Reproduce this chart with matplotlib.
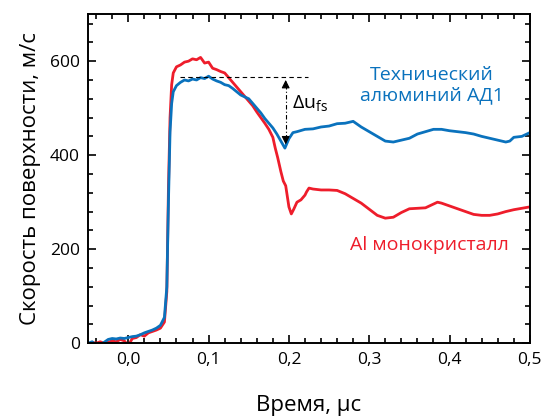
import numpy as np
import matplotlib.pyplot as plt
from matplotlib.ticker import MultipleLocator

plt.rcParams['font.family'] = ['Open Sans', 'DejaVu Sans']

# Технический алюминий АД1 (синяя кривая)
t_blue = [-0.05, -0.045, -0.04, -0.035, -0.03, -0.025, -0.02, -0.015, -0.01, -0.005,
          0.0, 0.005, 0.01, 0.015, 0.02, 0.025, 0.03, 0.035, 0.04, 0.045,
          0.048, 0.05, 0.052, 0.054, 0.056, 0.06, 0.065, 0.07, 0.075, 0.08,
          0.085, 0.09, 0.095, 0.1, 0.105, 0.11, 0.115, 0.12, 0.125, 0.13,
          0.135, 0.14, 0.145, 0.15, 0.155, 0.16, 0.165, 0.17, 0.175, 0.18,
          0.185, 0.19, 0.195, 0.2, 0.205, 0.21, 0.22, 0.23, 0.24, 0.25,
          0.26, 0.27, 0.28, 0.285, 0.29, 0.3, 0.31, 0.32, 0.33, 0.34,
          0.35, 0.36, 0.37, 0.38, 0.39, 0.4, 0.41, 0.42, 0.43, 0.44,
          0.45, 0.46, 0.47, 0.475, 0.48, 0.49, 0.5]
v_blue = [0, 3, -4, -3, 2, 8, 10, 9, 11, 10,
          12, 14, 15, 18, 22, 25, 28, 32, 38, 55,
          120, 300, 450, 510, 535, 548, 555, 560, 558, 562,
          560, 565, 563, 568, 562, 558, 555, 550, 548, 542,
          535, 528, 524, 520, 510, 500, 490, 478, 468, 458,
          445, 430, 415, 435, 448, 450, 455, 456, 460, 462,
          467, 468, 472, 466, 460, 450, 440, 430, 428, 432,
          436, 445, 450, 455, 455, 452, 450, 448, 445, 440,
          436, 432, 428, 430, 438, 440, 448]

# Al монокристалл (красная кривая)
t_red = [-0.05, -0.045, -0.04, -0.035, -0.03, -0.025, -0.02, -0.015, -0.01, -0.005,
         0.0, 0.005, 0.01, 0.015, 0.02, 0.025, 0.03, 0.035, 0.04, 0.045,
         0.048, 0.05, 0.052, 0.054, 0.056, 0.06, 0.065, 0.07, 0.075, 0.08,
         0.085, 0.09, 0.095, 0.1, 0.105, 0.11, 0.115, 0.12, 0.125, 0.13,
         0.135, 0.14, 0.145, 0.15, 0.155, 0.16, 0.165, 0.17, 0.175, 0.18,
         0.183, 0.186, 0.19, 0.193, 0.196, 0.2, 0.203, 0.206, 0.21, 0.215,
         0.22, 0.222, 0.225, 0.23, 0.24, 0.25, 0.26, 0.27, 0.28, 0.29,
         0.3, 0.31, 0.32, 0.33, 0.34, 0.35, 0.36, 0.37, 0.38, 0.385,
         0.39, 0.4, 0.41, 0.42, 0.43, 0.44, 0.45, 0.46, 0.47, 0.48,
         0.49, 0.5]
v_red = [-2, 2, 0, 3, 0, 2, 5, 3, 8, 5,
         -5, 10, 12, 18, 15, 22, 25, 28, 32, 45,
         110, 330, 480, 550, 575, 588, 592, 598, 600, 605,
         603, 608, 596, 598, 585, 582, 578, 575, 565, 555,
         545, 535, 525, 515, 505, 492, 480, 468, 455, 438,
         415, 395, 365, 345, 335, 290, 275, 285, 300, 305,
         315, 322, 330, 328, 326, 326, 325, 318, 308, 298,
         285, 272, 266, 268, 278, 286, 287, 288, 296, 300,
         298, 292, 286, 280, 274, 272, 272, 275, 280, 284,
         287, 290]

x_ticks = [0.0, 0.1, 0.2, 0.3, 0.4, 0.5]
x_labels = ['0,0', '0,1', '0,2', '0,3', '0,4', '0,5']
y_ticks = [0, 200, 400, 600]

blue = '#0a72bd'
red = '#ee1d2b'

fig = plt.figure(figsize=(5.44, 4.17), dpi=100)
ax = fig.add_axes([0.162, 0.177, 0.812, 0.789])

ax.plot(t_red, v_red, color=red, lw=2.0)
ax.plot(t_blue, v_blue, color=blue, lw=2.0)

# Δu_fs
ax.plot([0.065, 0.224], [566, 566], color='black', lw=0.8, ls=(0, (4, 3)))
ax.plot([0.196, 0.196], [435, 548], color='black', lw=0.8, ls=(0, (4, 2, 1, 2)))
ax.annotate('', xy=(0.196, 566), xytext=(0.196, 540),
            arrowprops=dict(arrowstyle='-|>', color='black', lw=0.8, mutation_scale=12))
ax.annotate('', xy=(0.196, 417), xytext=(0.196, 445),
            arrowprops=dict(arrowstyle='-|>', color='black', lw=0.8, mutation_scale=12))
ax.text(0.204, 510, 'Δu$_{\\mathregular{fs}}$', fontsize=14, va='center', ha='left')

ax.text(0.378, 549, 'Технический\nалюминий АД1', color=blue, fontsize=14,
        ha='center', va='center', linespacing=1.15)
ax.text(0.375, 208, 'Al монокристалл', color=red, fontsize=14,
        ha='center', va='center')

ax.set_xlim(-0.05, 0.5)
ax.set_ylim(0, 700)
ax.set_xticks(x_ticks)
ax.set_xticklabels(x_labels)
ax.set_yticks(y_ticks)
ax.xaxis.set_minor_locator(MultipleLocator(0.02))
ax.yaxis.set_minor_locator(MultipleLocator(40))
ax.tick_params(which='both', direction='in', top=True, right=True, labelsize=12.5,
               width=1.2, pad=6)
ax.tick_params(which='major', length=6)
ax.tick_params(which='minor', length=3.5)
for s in ax.spines.values():
    s.set_linewidth(1.4)

ax.set_xlabel('Время, μс', fontsize=16, labelpad=20)
ax.set_ylabel('Скорость поверхности, м/с', fontsize=16, labelpad=6)

fig.savefig('out.png', dpi=100)
